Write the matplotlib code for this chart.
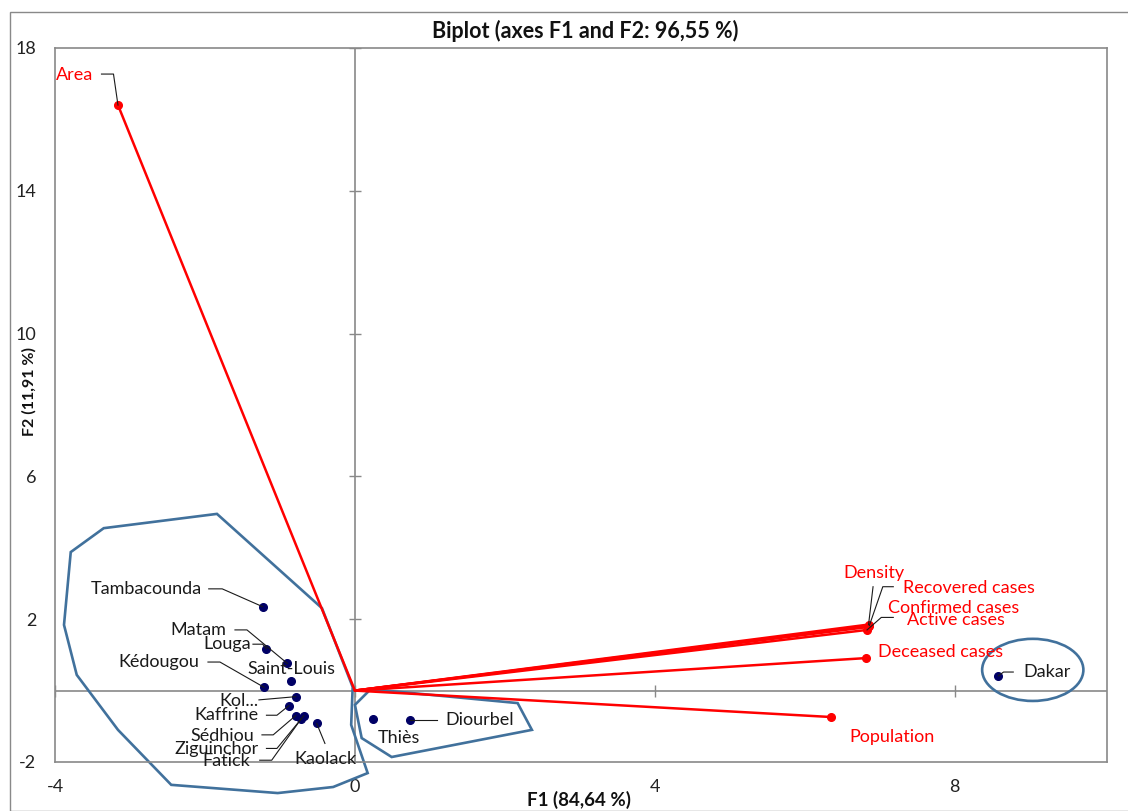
import matplotlib
matplotlib.use("Agg")
import matplotlib.pyplot as plt
from matplotlib.patches import Polygon, Ellipse, Rectangle

plt.rcParams['font.family'] = ['Lato', 'DejaVu Sans']

# ---- data: variable loadings (F1, F2) ----
var_names = ["Area", "Density", "Recovered cases", "Confirmed cases",
             "Active cases", "Deceased cases", "Population"]
var_f1 = [-3.16, 6.85, 6.86, 6.84, 6.83, 6.81, 6.35]
var_f2 = [16.40, 1.85, 1.82, 1.78, 1.70, 0.91, -0.74]

# ---- data: region scores (F1, F2) ----
obs_names = ["Tambacounda", "Matam", "Louga", "Kédougou", "Saint-Louis", "Kol...",
             "Kaffrine", "Sédhiou", "Ziguinchor", "Fatick", "Kaolack",
             "Thiès", "Diourbel", "Dakar"]
obs_f1 = [-1.23, -0.90, -1.18, -1.21, -0.85, -0.79, -0.88, -0.79, -0.68, -0.72,
          -0.51, 0.24, 0.73, 8.58]
obs_f2 = [2.35, 0.76, 1.17, 0.09, 0.27, -0.17, -0.42, -0.70, -0.70, -0.80,
          -0.92, -0.79, -0.82, 0.41]

x_ticks = [-4, 0, 4, 8]
y_ticks = [-2, 2, 6, 10, 14, 18]

# ---- cluster outlines ----
cluster_west = [(-1.84, 4.95), (-3.35, 4.55), (-3.79, 3.88), (-3.88, 1.84),
                (-3.71, 0.44), (-3.16, -1.10), (-2.45, -2.64), (-1.03, -2.87),
                (-0.29, -2.70), (0.17, -2.31), (-0.05, -0.96), (-0.03, 0.10),
                (-0.44, 2.31)]
cluster_centre = [(0.21, 0.04), (2.17, -0.35), (2.36, -1.10), (0.49, -1.86),
                  (0.09, -1.33), (0.0, -0.40)]
cluster_dakar = dict(center=(9.04, 0.58), width=1.35, height=1.74)

# ---- label layout: (x, y, ha, leader path) ----
obs_labels = {
    "Tambacounda": (-2.04, 2.85, "right", [(-1.95, 2.85), (-1.77, 2.85)]),
    "Matam": (-1.72, 1.70, "right", [(-1.60, 1.70), (-1.44, 1.70)]),
    "Louga": (-1.39, 1.30, "right", [(-1.36, 1.30), (-1.23, 1.30)]),
    "Kédougou": (-2.07, 0.80, "right", [(-1.96, 0.80), (-1.80, 0.80)]),
    "Saint-Louis": (-1.43, 0.60, "left", None),
    "Kol...": (-1.29, -0.29, "right", [(-1.28, -0.26)]),
    "Kaffrine": (-1.28, -0.69, "right", [(-1.18, -0.69), (-1.04, -0.69)]),
    "Sédhiou": (-1.35, -1.27, "right", [(-1.24, -1.24), (-1.09, -1.24)]),
    "Ziguinchor": (-1.28, -1.64, "right", [(-1.18, -1.62), (-1.04, -1.62)]),
    "Fatick": (-1.40, -1.98, "right", [(-1.27, -1.95), (-1.11, -1.95)]),
    "Kaolack": (-0.81, -1.92, "left", [(-0.40, -1.48)]),
    "Thiès": (0.31, -1.33, "left", None),
    "Diourbel": (1.20, -0.82, "left", [(1.09, -0.82)]),
    "Dakar": (8.91, 0.52, "left", [(8.78, 0.52), (8.65, 0.52)]),
}
var_labels = {
    "Area": (-3.49, 17.24, "right", [(-3.38, 17.27), (-3.22, 17.27)]),
    "Density": (6.92, 3.29, "center", [(6.91, 2.91)]),
    "Recovered cases": (7.31, 2.87, "left", [(7.18, 2.91), (7.04, 2.91)]),
    "Confirmed cases": (7.11, 2.31, "left", None),
    "Active cases": (7.36, 1.98, "left", [(7.18, 2.05), (7.02, 2.05)]),
    "Deceased cases": (6.97, 1.08, "left", None),
    "Population": (6.59, -1.30, "left", None),
}

RED = "#FF0000"
NAVY = "#000066"
BLUE = "#41719C"
GREY = "#898989"
FS = 13

W, H = 1128, 811
fig = plt.figure(figsize=(W / 100, H / 100), dpi=100)

# outer chart frame
fig.patches.append(Rectangle((10 / W, 0), 1.2, 1 - 12 / H, transform=fig.transFigure,
                             fill=False, edgecolor=GREY, linewidth=1.0))

ax = fig.add_axes([55 / W, 49 / H, 1052 / W, 714 / H])
ax.set_xlim(-4, 10.03)
ax.set_ylim(-2, 18)
for s in ax.spines.values():
    s.set_color(GREY)
    s.set_linewidth(1.2)
ax.set_xticks(x_ticks)
ax.set_yticks(y_ticks)
ax.set_xticklabels([str(v) for v in x_ticks])
ax.set_yticklabels([str(v) for v in y_ticks])
ax.tick_params(length=0, labelsize=FS, colors="#222222")
ax.tick_params(axis="x", pad=12.5)
ax.tick_params(axis="y", pad=13.5)

# axes crossing at the origin, with cross ticks
ax.axhline(0, color=GREY, lw=1.2, zorder=1)
ax.axvline(0, color=GREY, lw=1.2, zorder=1)
ax.plot(x_ticks, [0] * len(x_ticks), ls="none", marker="|", ms=9, mew=1.0, color=GREY, zorder=1)
ax.plot([0] * len(y_ticks), y_ticks, ls="none", marker="_", ms=9, mew=1.0, color=GREY, zorder=1)

# cluster outlines
ax.add_patch(Polygon(cluster_west, closed=True, fill=False, edgecolor=BLUE, lw=1.9,
                     clip_on=False, zorder=2))
ax.add_patch(Polygon(cluster_centre, closed=True, fill=False, edgecolor=BLUE, lw=1.9,
                     clip_on=False, zorder=2))
ax.add_patch(Ellipse(cluster_dakar["center"], cluster_dakar["width"], cluster_dakar["height"],
                     fill=False, edgecolor=BLUE, lw=1.9, zorder=2))

# variable vectors
for name, fx, fy in zip(var_names, var_f1, var_f2):
    ax.plot([0, fx], [0, fy], color=RED, lw=1.8, zorder=3, solid_capstyle="round")
ax.plot(var_f1, var_f2, ls="none", marker="o", ms=5.5, color=RED, zorder=4)

# region scores
ax.plot(obs_f1, obs_f2, ls="none", marker="o", ms=5.5, color=NAVY, zorder=4)


def draw_labels(layout, names, xs, ys, color):
    for name, px, py in zip(names, xs, ys):
        tx, ty, ha, leader = layout[name]
        ax.text(tx, ty, name, ha=ha, va="center", fontsize=FS, color=color, zorder=6)
        if leader:
            path = list(leader) + [(px, py)]
            ax.plot([p[0] for p in path], [p[1] for p in path], color="#1a1a1a",
                    lw=0.8, zorder=5)


draw_labels(var_labels, var_names, var_f1, var_f2, RED)
draw_labels(obs_labels, obs_names, obs_f1, obs_f2, "#1a1a1a")

fig.text(585 / W, 1 - 31 / H, "Biplot (axes F1 and F2: 96,55 %)", ha="center", va="center",
         fontsize=15.5, fontweight="bold", color="#111111")
fig.text(579 / W, 1 - 800 / H, "F1 (84,64 %)", ha="center", va="center",
         fontsize=13.5, fontweight="bold", color="#111111")
fig.text(29 / W, 1 - 392 / H, "F2 (11,91 %)", ha="center", va="center", rotation=90,
         fontsize=11.5, fontweight="bold", color="#111111")

fig.savefig("out.png", dpi=100)
